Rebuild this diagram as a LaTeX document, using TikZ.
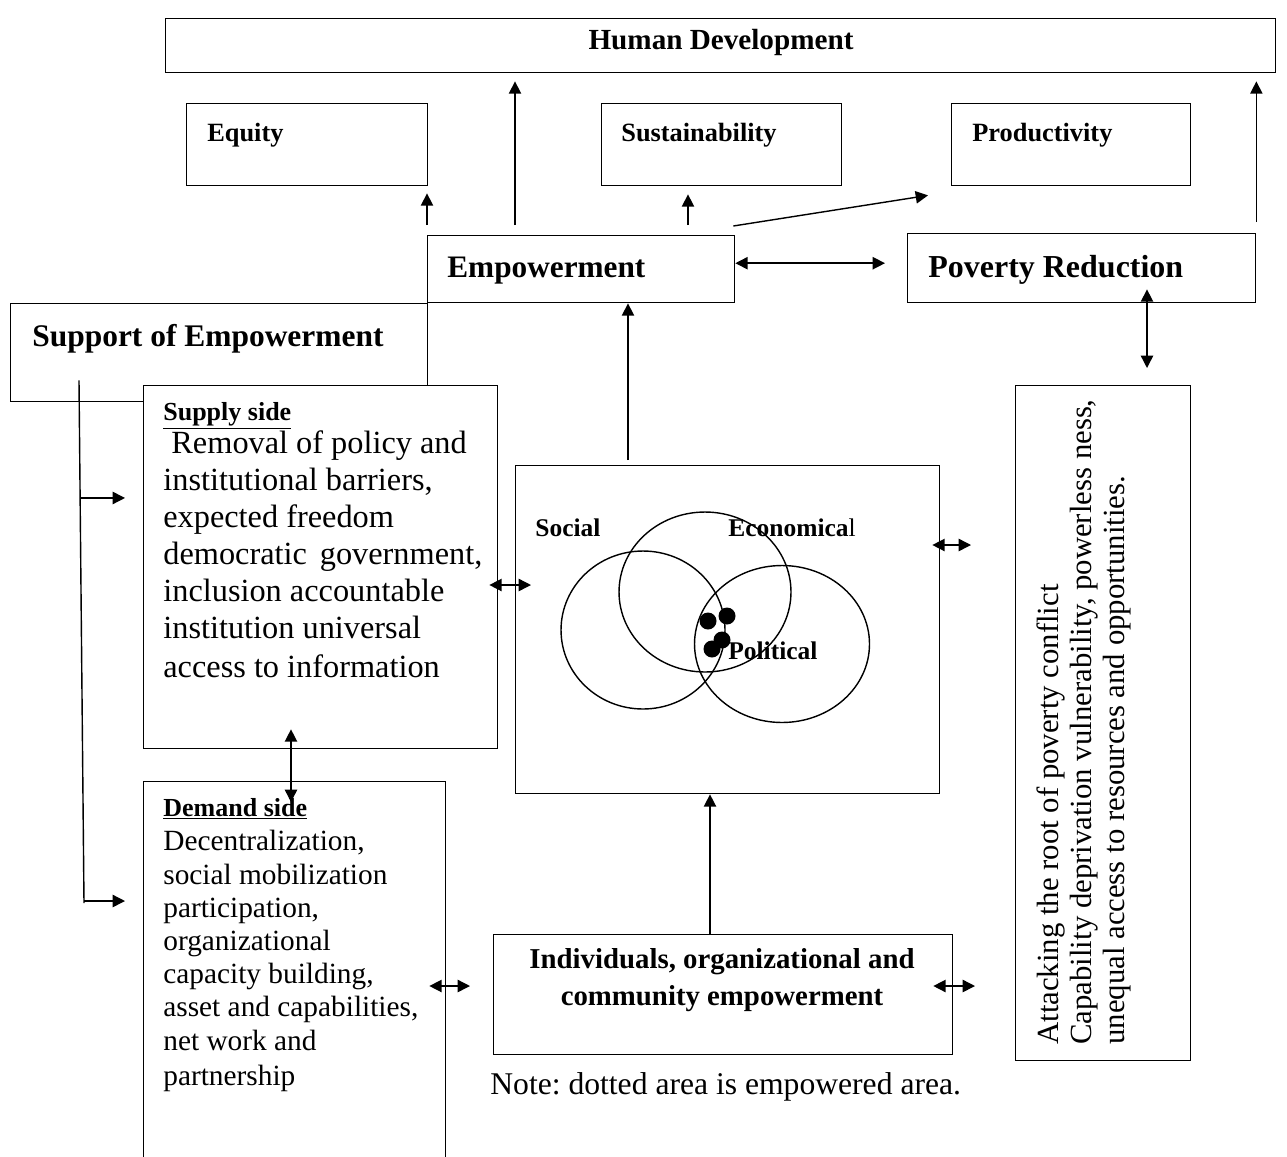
\documentclass[tikz,border=0pt]{standalone}
\usepackage{fontspec}
\setmainfont{Liberation Serif}
\usetikzlibrary{arrows.meta, calc, positioning}
\frenchspacing

\begin{document}
\begin{tikzpicture}[x=0.02cm, y=-0.02cm,
  box/.style={draw, line width=0.8pt, fill=white, inner sep=0pt, anchor=north west},
  lbl/.style={inner sep=0pt, anchor=base west},
  line/.style={line width=0.8pt},
  arr/.style={line width=0.8pt, -{Triangle[length=7pt,width=7pt]}},
  darr/.style={line width=0.8pt, {Triangle[length=7pt,width=7pt]}-{Triangle[length=7pt,width=7pt]}}]
\useasboundingbox (0,0) rectangle (1287,1156);

\node[box, minimum width=22.2cm, minimum height=1.08cm] (hd) at (165,18) {};
\node[box, minimum width=4.82cm, minimum height=1.64cm] (equity) at (186,103) {};
\node[box, minimum width=4.8cm, minimum height=1.64cm] (sustain) at (601,103) {};
\node[box, minimum width=4.78cm, minimum height=1.64cm] (product) at (951,103) {};
\node[box, minimum width=8.34cm, minimum height=1.96cm] (support) at (10,303) {};
\node[box, minimum width=6.14cm, minimum height=1.34cm] (empow) at (427,235) {};
\node[box, minimum width=6.96cm, minimum height=1.38cm] (povred) at (907,233) {};
\node[box, minimum width=7.08cm, minimum height=7.26cm] (supply) at (143,385) {};
\node[box, minimum width=6.04cm, minimum height=7.8cm] (demand) at (143,781) {};
\node[box, minimum width=8.48cm, minimum height=6.56cm] (venn) at (515,465) {};
\node[box, minimum width=9.18cm, minimum height=2.4cm] (indiv) at (493,934) {};
\node[box, minimum width=3.5cm, minimum height=13.5cm] (attack) at (1015,385) {};

\node[lbl, anchor=base, font=\bfseries\fontsize{16.6}{20}\selectfont] (hdtxt) at (721,49) {Human Development};
\node[lbl, font=\bfseries\fontsize{15}{18}\selectfont] (eqtxt) at (207,141) {Equity};
\node[lbl, font=\bfseries\fontsize{15}{18}\selectfont] (sutxt) at (621,141) {Sustainability};
\node[lbl, font=\bfseries\fontsize{15}{18}\selectfont] (prtxt) at (972,141) {Productivity};
\node[lbl, font=\bfseries\fontsize{17.8}{21}\selectfont] (emtxt) at (447,277) {Empowerment};
\node[lbl, font=\bfseries\fontsize{18.2}{21}\selectfont] (potxt) at (928,277) {Poverty Reduction};
\node[lbl, font=\bfseries\fontsize{17.9}{21}\selectfont] (sptxt) at (32,346) {Support of Empowerment};

\node[lbl, font=\bfseries\fontsize{14.8}{18}\selectfont] (suhead) at (163,420) {\underline{Supply side}};
\node[lbl, align=left, font=\fontsize{18.4}{21}\selectfont] (subody) at (163,677)
  {\ Removal of policy and\\ institutional barriers,\\ expected freedom\\
   democratic\hspace{0.4em}government,\\ inclusion accountable\\ institution universal\\[1pt] access to information};

\node[lbl, font=\bfseries\fontsize{14.8}{18}\selectfont] (dehead) at (163,816) {\underline{Demand side}};
\node[lbl, align=left, font=\fontsize{16.7}{18.9}\selectfont] (debody) at (163,1085)
  {Decentralization,\\ social mobilization\\ participation,\\ organizational\\
   capacity building,\\ asset and\ capabilities,\\ net work and\\[1pt] partnership};

\node[lbl, anchor=base, align=center, font=\bfseries\fontsize{16.4}{21}\selectfont] (intxt) at (722,1005)
  {Individuals, organizational and\\ community empowerment};

\node[lbl, rotate=90, align=left, font=\fontsize{17.5}{18.7}\selectfont] (attxt) at (1124,1045)
  {Attacking the root of poverty conflict\\ Capability deprivation vulnerability, powerless ness,\\
   unequal access to resources and opportunities.};

\node[lbl, font=\fontsize{18}{21}\selectfont] (note) at (490,1094) {Note: dotted area is empowered area.};

\draw[line] (643,630) ellipse [x radius=1.64cm, y radius=1.58cm];
\draw[line] (705,592) ellipse [x radius=1.72cm, y radius=1.6cm];
\draw[line] (782,644) ellipse [x radius=1.75cm, y radius=1.57cm];
\foreach \px/\py in {708/621, 727/616, 722/640, 712/649}
  \fill (\px,\py) circle [radius=0.17cm];
\node[lbl, font=\bfseries\fontsize{14.5}{17}\selectfont] (social) at (535,536) {Social};
\node[lbl, font=\fontsize{14.5}{17}\selectfont] (econ) at (728,536) {\textbf{Economica}l};
\node[lbl, font=\bfseries\fontsize{14.5}{17}\selectfont] (polit) at (728,659) {Political};

\draw[arr] ($(empow.north west)+(0,-10)$) -- ($(empow.north west |- equity.south)+(0,7)$);
\draw[arr] ($(empow.north west)+(88,-10)$) -- ($(hd.south west)+(350,8)$);
\draw[arr] ($(empow.north west)+(261,-10)$) -- ($(sustain.south west)+(87,8)$);
\draw[arr] ($(empow.north east)+(-2,-9)$) -- ($(product.south west)+(-23,9)$);
\draw[darr] ($(empow.east)+(0,-6)$) -- ($(povred.west)+(-22,-5)$);
\draw[arr] ($(povred.north east)+(0,-11)$) -- ($(povred.north east |- hd.south)+(0,8)$);
\draw[darr] ($(povred.south west)+(240,-14)$) -- ($(attack.north west)+(132,-17)$);
\draw[arr] ($(venn.north west)+(113,-5)$) -- ($(empow.south west)+(201,0)$);
\draw[darr] ($(supply.north east)+(-9,200)$) -- ($(venn.north west)+(16,120)$);
\draw[darr] ($(venn.north east)+(-8,80)$) -- ($(attack.north west)+(-44,160)$);
\draw[darr] ($(supply.south west)+(148,-20)$) -- ($(demand.north west)+(148,21)$);
\draw[arr] ($(indiv.north west)+(217,0)$) -- ($(venn.south west)+(195,0)$);
\draw[darr] ($(demand.north east)+(-17,205)$) -- ($(indiv.north west)+(-23,52)$);
\draw[darr] ($(indiv.north east)+(-20,52)$) -- ($(attack.north west)+(-40,601)$);

\coordinate (vtop) at ($(support.south west)+(69,-22)$);
\coordinate (vbot) at (84,903);
\draw[line] (vtop) -- (vbot);
\coordinate (vmid) at ($(vtop)!0.225!(vbot)$);
\draw[arr] (vmid) -- ($(supply.west |- vmid)+(-18,0)$);
\draw[arr] ($(vbot)+(0,-2)$) -- ($(demand.west |- vbot)+(-18,-2)$);
\end{tikzpicture}
\end{document}
